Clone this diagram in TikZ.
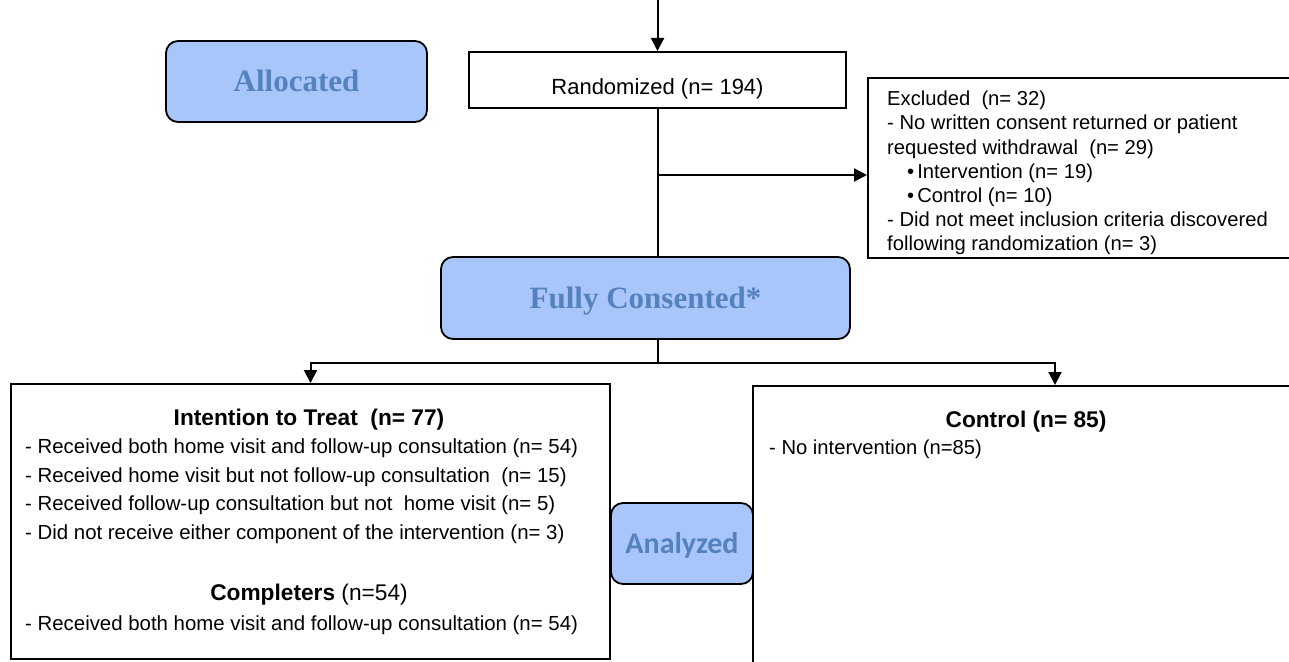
\documentclass[tikz,border=0pt]{standalone}
\usepackage{fontspec}
\setmainfont{Liberation Sans}
\newfontfamily\serifbold{Liberation Serif}
\newfontfamily\carl{Carlito}
\usetikzlibrary{arrows.meta}
\definecolor{boxfill}{RGB}{169,198,250}
\definecolor{boxtext}{RGB}{84,130,190}
\begin{document}
\begin{tikzpicture}[x=1pt,y=-1pt,
  stage/.style={draw=black, line width=1.8pt, rounded corners=12pt, fill=boxfill, text=boxtext, inner sep=0pt, text height=20pt, text depth=0pt},
  serifstage/.style={stage, font=\serifbold\bfseries\fontsize{31}{31}\selectfont},
  sansstage/.style={stage, font=\carl\bfseries\fontsize{30}{30}\selectfont},
  plainbox/.style={draw=black, line width=2pt, inner sep=0pt, fill=white},
  conn/.style={line width=2pt, draw=black},
  arr/.style={conn, -{Triangle[width=13pt,length=13pt]}},
  bodytxt/.style={font=\fontsize{20.2}{24.2}\selectfont, inner sep=0pt, align=left, anchor=north west},
  listtxt/.style={font=\fontsize{20.4}{28.5}\selectfont, inner sep=0pt, align=left, anchor=north west},
  headtxt/.style={font=\fontsize{22.7}{27}\selectfont, inner sep=0pt, text height=16.2pt, text depth=0pt},
]
\useasboundingbox (0,0) rectangle (1289,661);
\fill[white] (0,0) rectangle (1289,661);

% stage labels and boxes
\node[serifstage, minimum width=261pt, minimum height=81pt] (alloc) at (296.5,81.5) {Allocated};
\node[plainbox, minimum width=377pt, minimum height=56pt] (rand) at (657.5,80) {};
\node[font=\fontsize{22}{22}\selectfont, inner sep=0pt, text height=15.8pt, text depth=0pt] (randlbl) at (657.5,87) {Randomized (n= 194)};

\node[plainbox, minimum width=442pt, minimum height=180pt] (excl) at (1089,168) {};
\node[bodytxt] (excltxt) at (887,90.8) {Excluded~ (n= 32)\\
- No written consent returned or patient\\
requested withdrawal~ (n= 29)\\
\hspace*{20pt}•\hspace{3pt}Intervention (n= 19)\\
\hspace*{20pt}•\hspace{3pt}Control (n= 10)\\
- Did not meet inclusion criteria discovered\\
following randomization (n= 3)};

\node[serifstage, minimum width=409pt, minimum height=82pt] (fc) at (645.5,298) {Fully Consented*};

\node[plainbox, minimum width=599pt, minimum height=275pt] (itt) at (310.5,521.5) {};
\node[plainbox, minimum width=604pt, minimum height=294pt] (ctl) at (1055,533) {};

\node[sansstage, minimum width=142pt, minimum height=81pt] (anal) at (682,543.5) {Analyzed};

% texts in the left box
\node[headtxt] (itthead) at (309,417) {\bfseries Intention to Treat~ (n= 77)};
\node[listtxt] (ittlist) at (25,438.7) {- Received both home visit and follow-up consultation (n= 54)\\
- Received home visit but not follow-up consultation~ (n= 15)\\
- Received follow-up consultation but not~ home visit (n= 5)\\
- Did not receive either component of the intervention (n= 3)};
\node[headtxt] (comphead) at (309,592) {\textbf{Completers} (n=54)};
\node[listtxt] (compline) at (25,615.7) {- Received both home visit and follow-up consultation (n= 54)};

% texts in the right box
\node[headtxt] (ctlhead) at (1026,419) {\bfseries Control (n= 85)};
\node[bodytxt] (ctlline) at (769,439.8) {- No intervention (n=85)};

% connectors
\coordinate (top) at (657.5,0);
\draw[arr] (top) -- (rand.north);
\draw[conn] (rand.south) -- (rand.south |- fc.north);
\coordinate (br) at (657.5,175);
\draw[arr] (br) -- (br -| excl.west);
\coordinate (split) at (657.5,363);
\draw[conn] (split |- fc.south) -- (split);
\draw[arr] (split) -| (itt.north);
\draw[arr] (split) -| (ctl.north);
\end{tikzpicture}
\end{document}
